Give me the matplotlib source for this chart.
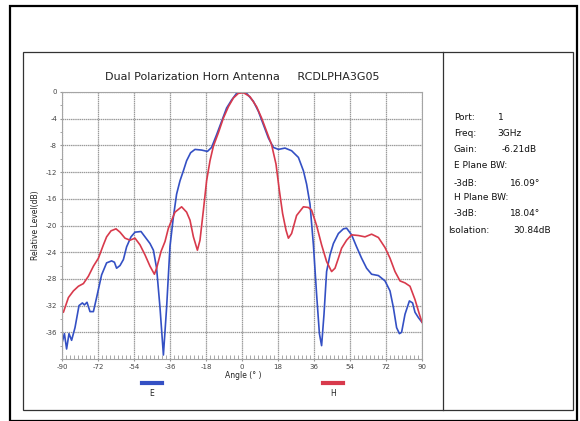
import matplotlib.pyplot as plt
from matplotlib.lines import Line2D
from matplotlib.patches import Rectangle
from matplotlib.ticker import MultipleLocator

plt.rcParams['axes.unicode_minus'] = False

# E plane (blue)
e_ang = [-90.5, -88.8, -87.7, -86.5, -85.2, -83.5, -81.5, -79.8, -78.8, -77.5, -76, -74.3,
         -72.7, -70.2, -67.7, -65.2, -63.8, -62.7, -61, -59.3, -57.7, -55.5, -53.5, -50.5,
         -48.5, -46, -44.3, -42.7, -41, -39.3, -37.7, -36, -34.3, -32.7, -31, -29.3, -27.7,
         -25.7, -23.5, -20.2, -17.3, -15.2, -12.7, -10.2, -7.7, -5.2, -2.7, -0.2, 2.3, 5.7,
         8.2, 10.7, 13.2, 15.7, 18.2, 21.5, 24.8, 28.2, 30.7, 32.3, 34, 35.7, 37.3, 38.7,
         39.8, 41, 42.3, 44, 45.7, 48.2, 50.7, 52.3, 54.8, 57.3, 59.8, 62.3, 64.8, 68.2,
         71.5, 74, 75.7, 77.3, 78.7, 79.8, 81.5, 83.7, 85.3, 86.5, 88.2, 90]
e_db = [-38.2, -36.2, -38.5, -36.2, -37.2, -35.3, -32, -31.6, -31.9, -31.5, -32.9, -32.9,
        -30.8, -27.4, -25.6, -25.3, -25.5, -26.4, -26, -25.1, -23.2, -21.7, -21, -20.9,
        -21.7, -22.7, -23.7, -26.4, -32.3, -39.4, -32.3, -23.1, -18.7, -15.3, -13.3, -11.8,
        -10.3, -9.1, -8.6, -8.7, -8.9, -8.3, -6.4, -4.4, -2.4, -1.2, -0.2, 0, -0.2, -1.4,
        -2.9, -4.9, -6.9, -8.3, -8.6, -8.4, -8.8, -9.8, -11.8, -13.8, -16.8, -22.9, -30.3,
        -36.2, -38, -33.3, -26.9, -24.4, -22.7, -21.2, -20.5, -20.4, -21.4, -23.2, -24.9,
        -26.4, -27.3, -27.5, -28.3, -29.8, -32.3, -35.3, -36.2, -36, -33.3, -31.3, -31.6,
        -33, -33.8, -34.5]

# H plane (red)
h_ang = [-90.5, -89.3, -86.8, -84.3, -81.8, -79.3, -76.8, -74.3, -71.8, -69.3, -67.7, -65.5,
         -63, -61, -58.5, -56, -53.5, -51, -48.5, -46, -43.8, -42.7, -40.5, -38.5, -36.8,
         -33.5, -30.2, -27.7, -26, -24.3, -22.3, -21, -19.3, -17.7, -16, -14.3, -11.8, -9.3,
         -6.8, -4.3, -1.8, 0.7, 4, 7.3, 9.8, 12.3, 14.8, 17, 18.7, 20.3, 22, 23.2, 24.8,
         27.3, 30.7, 33.2, 34.8, 37.3, 39.8, 42.3, 44.8, 46.5, 48.2, 49.8, 52.3, 54.8, 58.2,
         61.5, 64.8, 68.2, 71.5, 74, 76.5, 79, 81.5, 84, 86.5, 88.7, 90]
h_db = [-32.9, -33, -30.8, -29.8, -29.1, -28.7, -27.6, -26.1, -24.9, -22.9, -21.7, -20.8,
        -20.5, -21, -21.9, -22.2, -21.9, -22.9, -24.4, -26.1, -27.3, -26.4, -23.9, -22.4,
        -20.4, -18, -17.2, -18, -19.2, -21.7, -23.7, -22.2, -17.7, -13.3, -10.3, -8.1, -6.1,
        -3.9, -2.2, -0.9, -0.2, -0.1, -0.7, -2.2, -3.9, -5.9, -7.9, -10.8, -14.8, -18.2,
        -20.7, -21.9, -21.2, -18.5, -17.2, -17.3, -17.7, -20, -22.9, -25.4, -26.9, -26.4,
        -24.9, -23.4, -22.2, -21.4, -21.5, -21.7, -21.3, -21.8, -23.3, -24.9, -26.9, -28.3,
        -28.6, -29.1, -31.1, -33.3, -34.5]

x_ticks = [-90, -72, -54, -36, -18, 0, 18, 36, 54, 72, 90]
y_ticks = [0, -4, -8, -12, -16, -20, -24, -28, -32, -36]

info_labels = ["Port:", "Freq:", "Gain:", "E Plane BW:", "-3dB:", "H Plane BW:", "-3dB:", "Isolation:"]
info_values = ["1", "3GHz", "-6.21dB", "", "16.09°", "", "18.04°", "30.84dB"]

blue = "#3450c4"
red = "#d83a4c"

fig = plt.figure(figsize=(5.8, 4.21), dpi=100)
W, H = 580, 421

def fx(px):
    return px / W

def fy(py):
    return 1 - py / H

# frames
fig.add_artist(Rectangle((fx(10), fy(421)), fx(567), 415 / H, fill=False, ec="black", lw=1.6))
fig.add_artist(Rectangle((fx(23), fy(410)), fx(550), 358 / H, fill=False, ec="#333333", lw=0.9))
fig.add_artist(Line2D([fx(443), fx(443)], [fy(52), fy(410)], color="#333333", lw=0.9))

ax = fig.add_axes([fx(62), fy(359), 360 / W, 267 / H])
ax.plot(e_ang, e_db, color=blue, lw=1.2)
ax.plot(h_ang, h_db, color=red, lw=1.2)
ax.set_xlim(-90, 90)
ax.set_ylim(-40, 0)
ax.set_xticks(x_ticks)
ax.set_yticks(y_ticks)
ax.xaxis.set_minor_locator(MultipleLocator(2))
ax.yaxis.set_minor_locator(MultipleLocator(2))
ax.tick_params(which="major", labelsize=5, labelcolor="#444444", color="#999999", length=1.5, pad=2)
ax.tick_params(axis="x", which="minor", direction="in", length=3, color="#999999")
ax.tick_params(axis="y", which="minor", length=1.5, color="#999999")
ax.grid(True, which="major", color="#9a9a9a", lw=0.9, ls=(0, (1.2, 0.5)))
for s in ax.spines.values():
    s.set_color("#a5a5a5")
    s.set_linewidth(0.8)

ax.set_title("Dual Polarization Horn Antenna     RCDLPHA3G05", fontsize=8, pad=9,
             color="#222222")
ax.set_ylabel("Relative Level(dB)", fontsize=5.5, color="#222222")
ax.yaxis.set_label_coords(-0.061, 0.5)
fig.text(fx(243), fy(376), "Angle (° )", fontsize=5.5, ha="center", va="center", color="#222222")

# legend marks under the axes
fig.add_artist(Line2D([fx(142), fx(162)], [fy(383), fy(383)], color=blue, lw=3))
fig.text(fx(152), fy(393), "E", fontsize=5.5, ha="center", va="center", color="#222222")
fig.add_artist(Line2D([fx(323), fx(343)], [fy(383), fy(383)], color=red, lw=3))
fig.text(fx(333), fy(393), "H", fontsize=5.5, ha="center", va="center", color="#222222")

# info panel
rows_y = [117, 133, 149, 165, 183, 198, 214, 230]
label_x = [454, 454, 454, 454, 454, 454, 454, 448]
value_x = [498, 497, 502, 0, 540, 0, 540, 513]
for lab, val, yy, lx, vx in zip(info_labels, info_values, rows_y, label_x, value_x):
    fig.text(fx(lx), fy(yy), lab, fontsize=6.5, va="center", color="#111111")
    if val:
        ha = "right" if vx >= 530 else "left"
        fig.text(fx(vx), fy(yy), val, fontsize=6.5, va="center", ha=ha, color="#111111")

fig.savefig("out.png", dpi=100)
